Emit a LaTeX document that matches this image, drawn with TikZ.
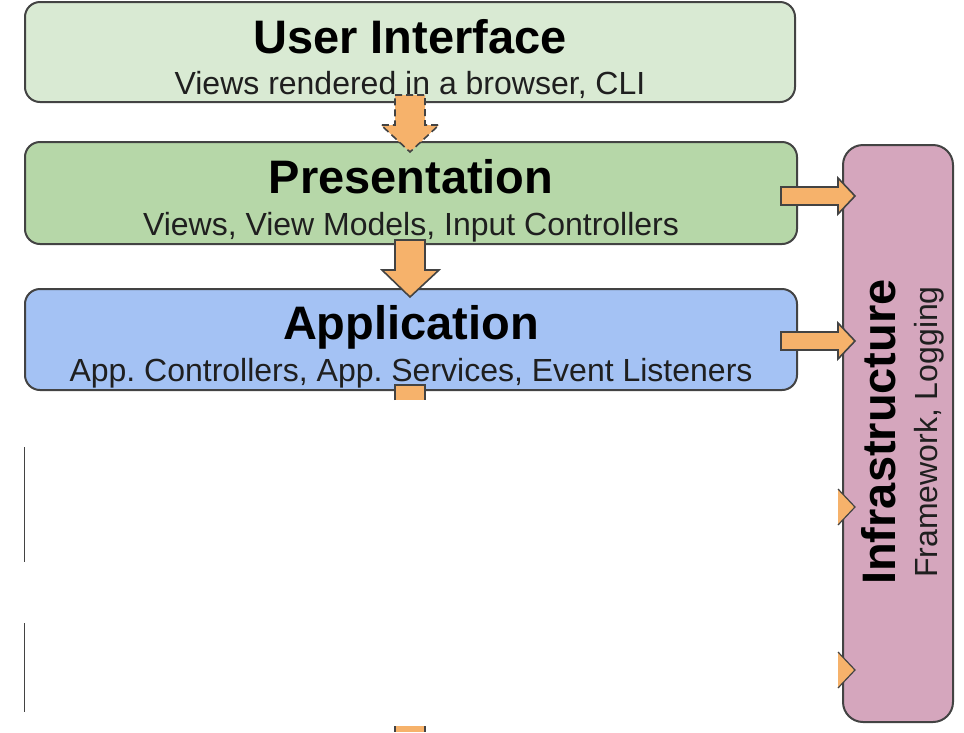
\documentclass[tikz,border=0pt]{standalone}
\usepackage{fontspec}
\setmainfont{Liberation Sans}
\frenchspacing
\definecolor{uifill}{HTML}{D9EAD3}
\definecolor{presfill}{HTML}{B6D7A8}
\definecolor{appfill}{HTML}{A4C2F4}
\definecolor{infrafill}{HTML}{D5A6BD}
\definecolor{arrowfill}{HTML}{F6B26B}
\definecolor{edge}{HTML}{434343}
\tikzset{
  layer/.style={draw=edge, line width=2pt, rounded corners=15pt},
  titletext/.style={anchor=base, inner sep=0pt, font=\fontsize{47}{56}\selectfont\bfseries},
  subtext/.style={anchor=base, inner sep=0pt, text=black!88, font=\fontsize{32}{38}\selectfont},
  blockarrow/.style={draw=edge, fill=arrowfill, line width=1.6pt, line join=miter},
}
\begin{document}
\begin{tikzpicture}[x=1pt, y=-1pt]
\useasboundingbox (0,0) rectangle (964,732);
% layers
\draw[layer, fill=uifill] (25,2) rectangle (795,102);
\node[titletext] (uit) at (410,53) {User Interface};
\node[subtext] (uis) at (410,94) {Views rendered in a browser, CLI};

\draw[layer, fill=presfill] (25,142) rectangle (797,244);
\node[titletext] (prest) at (411,193) {Presentation};
\node[subtext] (press) at (411,235) {Views, View Models, Input Controllers};

\draw[layer, fill=appfill] (25,289) rectangle (797,390);
\node[titletext] (appt) at (411,339) {Application};
\node[subtext] (apps) at (411,381) {App. Controllers, App. Services, Event Listeners};

\draw[layer, rounded corners=20pt, fill=infrafill] (843,145) rectangle (953,722);
\node[titletext, rotate=90] (inft) at (895,432) {Infrastructure};
\node[subtext, rotate=90] (infs) at (937,432) {Framework, Logging};

% partial left edge lines
\draw[edge, line width=1.6pt] (24.5,447) -- (24.5,562);
\draw[edge, line width=1.6pt] (24.5,623) -- (24.5,712);

% down arrows
\draw[blockarrow, dash pattern=on 7pt off 4pt]
  (395,95) -- (425,95) -- (425,125) -- (439,125) -- (410,152) -- (381,125) -- (395,125) -- cycle;
\draw[blockarrow]
  (395,240) -- (425,240) -- (425,270) -- (439,270) -- (410,297) -- (382,270) -- (395,270) -- cycle;

% partial arrow below application
\fill[arrowfill] (395,385) rectangle (425,400);
\draw[edge, line width=1.6pt] (395,400) -- (395,385) -- (425,385) -- (425,400);
\fill[arrowfill] (395,726) rectangle (425,732);
\draw[edge, line width=1.6pt] (395,726) -- (395,732) (425,726) -- (425,732);

% right arrows
\draw[blockarrow]
  (781,187) -- (838,187) -- (838,178) -- (855,196) -- (838,214) -- (838,205) -- (781,205) -- cycle;
\draw[blockarrow]
  (781,332) -- (838,332) -- (838,323) -- (855,341) -- (838,359) -- (838,350) -- (781,350) -- cycle;

% partial arrow heads
\fill[arrowfill] (838,489) -- (855,507) -- (838,525) -- cycle;
\draw[edge, line width=1.2pt] (838,489) -- (855,507) -- (838,525);
\fill[arrowfill] (838,652) -- (855,670) -- (838,688) -- cycle;
\draw[edge, line width=1.2pt] (838,652) -- (855,670) -- (838,688);
\end{tikzpicture}
\end{document}
